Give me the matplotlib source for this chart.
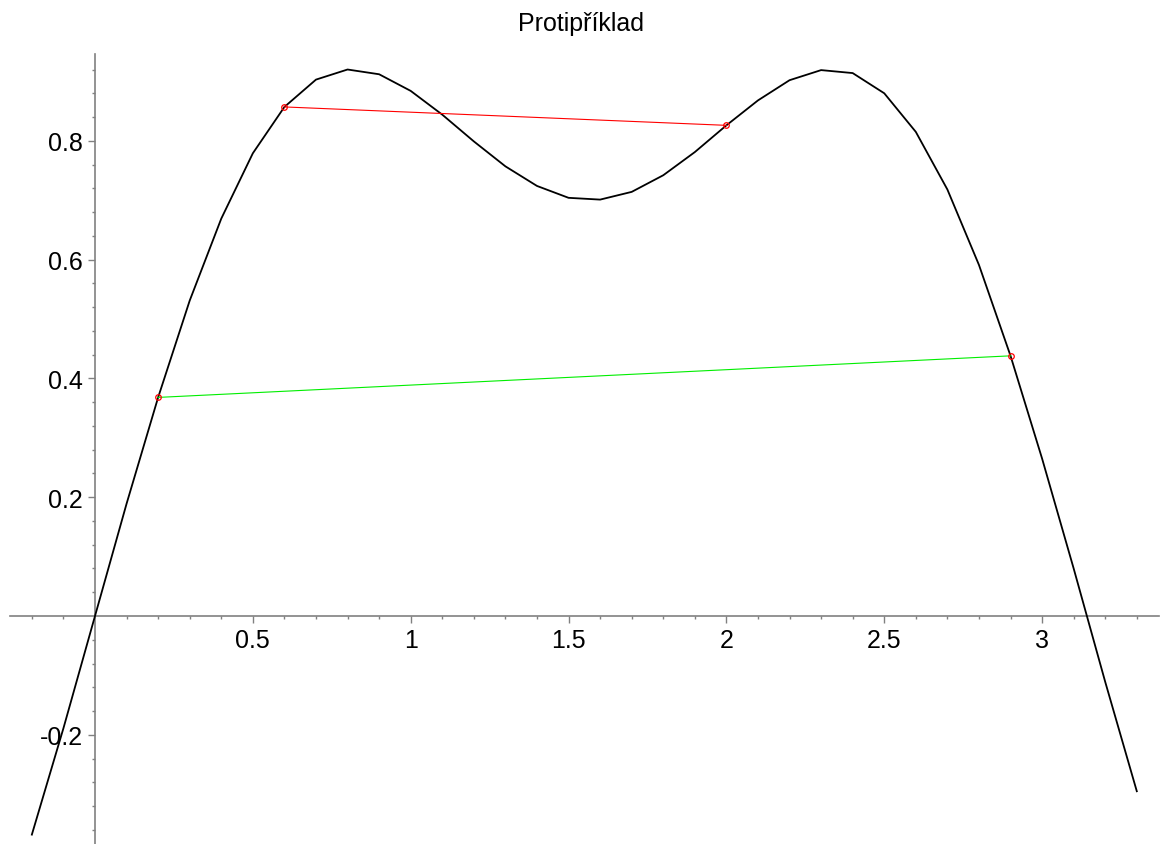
import matplotlib.pyplot as plt

plt.rcParams['font.family'] = ['Liberation Sans', 'DejaVu Sans']

# curve (step 0.1)
x_curve = [-0.2, -0.1, 0.0, 0.1, 0.2, 0.3, 0.4, 0.5, 0.6, 0.7, 0.8, 0.9,
           1.0, 1.1, 1.2, 1.3, 1.4, 1.5, 1.6, 1.7, 1.8, 1.9, 2.0, 2.1,
           2.2, 2.3, 2.4, 2.5, 2.6, 2.7, 2.8, 2.9, 3.0, 3.1, 3.2, 3.3]
y_curve = [-0.368, -0.189, 0.0, 0.189, 0.368, 0.531, 0.669, 0.779, 0.857, 0.903,
           0.920, 0.912, 0.884, 0.844, 0.799, 0.757, 0.724, 0.704, 0.701, 0.714,
           0.742, 0.781, 0.826, 0.868, 0.902, 0.919, 0.914, 0.880, 0.815, 0.718,
           0.591, 0.438, 0.265, 0.080, -0.111, -0.295]

# chords
red_x = [0.6, 2.0]
red_y = [0.857, 0.826]
green_x = [0.2, 2.9]
green_y = [0.368, 0.438]

xticks = [0.5, 1, 1.5, 2, 2.5, 3]
xticklabels = ['0.5', '1', '1.5', '2', '2.5', '3']
yticks = [-0.2, 0.2, 0.4, 0.6, 0.8]
yticklabels = ['-0.2', '0.2', '0.4', '0.6', '0.8']
xminor = [-0.2, -0.1, 0.1, 0.2, 0.3, 0.4, 0.6, 0.7, 0.8, 0.9, 1.1, 1.2, 1.3, 1.4,
          1.6, 1.7, 1.8, 1.9, 2.1, 2.2, 2.3, 2.4, 2.6, 2.7, 2.8, 2.9, 3.1, 3.2, 3.3]
yminor = [-0.36, -0.32, -0.28, -0.24, -0.16, -0.12, -0.08, -0.04, 0.04, 0.08,
          0.12, 0.16, 0.24, 0.28, 0.32, 0.36, 0.44, 0.48, 0.52, 0.56, 0.64,
          0.68, 0.72, 0.76, 0.84, 0.88, 0.92]

fig = plt.figure(figsize=(11.62, 8.45), dpi=100)
ax = fig.add_axes([0, 0, 1, 1])
ax.set_xlim(-0.3009, 3.3798)
ax.set_ylim(-0.3838, 1.0387)

ax.plot(x_curve, y_curve, color='black', lw=1.3, zorder=3)
ax.plot(red_x, red_y, color='red', lw=0.8, zorder=4)
ax.plot(green_x, green_y, color='#00ee00', lw=0.8, zorder=4)
ax.plot(red_x + green_x, red_y + green_y, 'o', ms=4, mfc='none', mec='red',
        mew=0.9, zorder=5)

for s in ['top', 'right']:
    ax.spines[s].set_visible(False)
ax.spines['left'].set_position(('data', 0))
ax.spines['bottom'].set_position(('data', 0))
ax.spines['left'].set_bounds(-0.3838, 0.946)
ax.spines['bottom'].set_bounds(-0.27, 3.37)
for s in ['left', 'bottom']:
    ax.spines[s].set_color('#808080')
    ax.spines[s].set_linewidth(1.2)

ax.set_xticks(xticks)
ax.set_xticklabels(xticklabels)
ax.set_yticks(yticks)
ax.set_yticklabels(yticklabels)
ax.set_xticks(xminor, minor=True)
ax.set_yticks(yminor, minor=True)
ax.tick_params(which='major', direction='out', length=5, width=1,
               color='#808080', labelsize=18, pad=3.5)
ax.tick_params(which='minor', direction='out', length=2.2, width=1,
               color='#808080')

fig.text(0.5, 0.972, 'Protipříklad', ha='center', va='center', fontsize=18)

fig.savefig('out.png', dpi=100)
